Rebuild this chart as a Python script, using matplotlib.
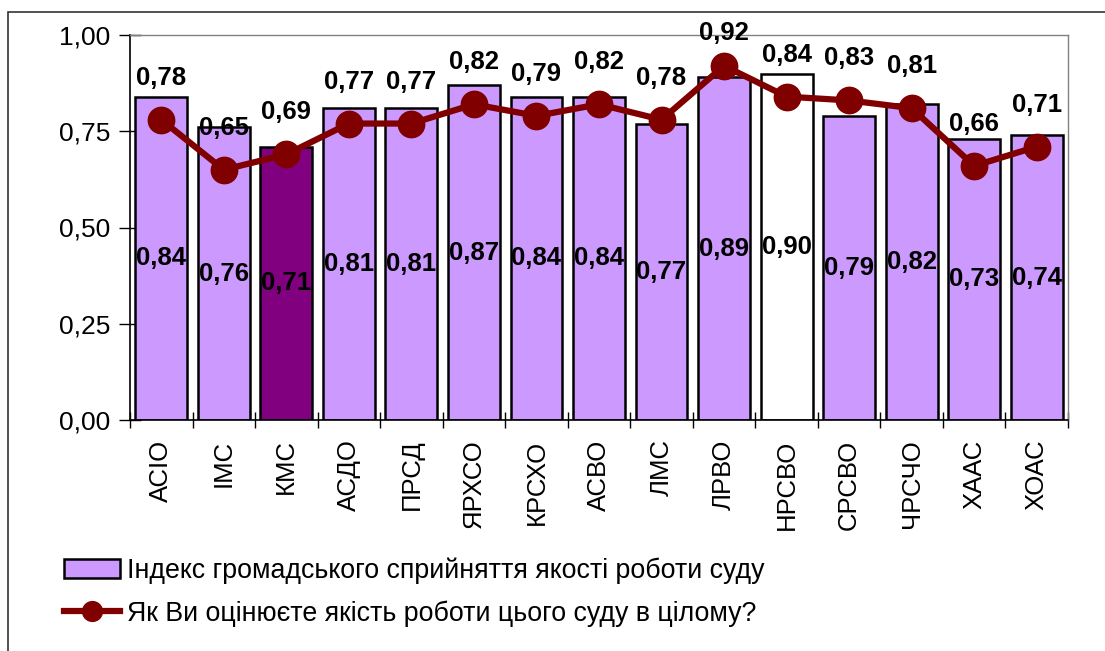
import numpy as np
import matplotlib.pyplot as plt
from matplotlib.patches import Rectangle
from matplotlib.ticker import FixedLocator, FuncFormatter

# Data
courts = ["АСІО", "ІМС", "КМС", "АСДО", "ПРСД", "ЯРХСО", "КРСХО", "АСВО",
          "ЛМС", "ЛРВО", "НРСВО", "СРСВО", "ЧРСЧО", "ХААС", "ХОАС"]
index_vals = [0.84, 0.76, 0.71, 0.81, 0.81, 0.87, 0.84, 0.84,
              0.77, 0.89, 0.90, 0.79, 0.82, 0.73, 0.74]
rating_vals = [0.78, 0.65, 0.69, 0.77, 0.77, 0.82, 0.79, 0.82,
               0.78, 0.92, 0.84, 0.83, 0.81, 0.66, 0.71]
bar_label = "Індекс громадського сприйняття якості роботи суду"
line_label = "Як Ви оцінюєте якість роботи цього суду в цілому?"

plt.rcParams['font.family'] = ['Liberation Sans', 'DejaVu Sans']

fig = plt.figure(figsize=(11.05, 6.51), dpi=100)
ax = fig.add_axes([130 / 1105, 1 - 420 / 651, 938 / 1105, 385 / 651])

# outer frame
fig.patches.append(Rectangle((8 / 1105, -0.05), 1.2, 0.05 + 1 - 12 / 651,
                             transform=fig.transFigure, fill=False,
                             edgecolor='#333333', linewidth=1.2))

x = np.arange(len(courts))
colors = ['#CC99FF'] * len(courts)
colors[courts.index("КМС")] = '#800080'
colors[courts.index("НРСВО")] = 'white'

bars = ax.bar(x, index_vals, width=0.83, color=colors, edgecolor='black',
              linewidth=1.8, label=bar_label, zorder=2)
line, = ax.plot(x, rating_vals, color='#800000', linewidth=4.5, marker='o',
                markersize=19, label=line_label, zorder=3)

for xi, v in zip(x, index_vals):
    ax.text(xi, v / 2, f"{v:.2f}".replace('.', ','), ha='center', va='center',
            fontsize=18.5, fontweight='bold', zorder=4)
for xi, v in zip(x, rating_vals):
    # keep labels inside the chart area (as the spreadsheet does)
    py = 385 * v
    off = min(42, 385 + 2 - py)
    ax.annotate(f"{v:.2f}".replace('.', ','), (xi, v), xytext=(0, off),
                textcoords='offset pixels', ha='center', va='center',
                fontsize=18.5, fontweight='bold', zorder=4)

ax.set_xlim(-0.5, len(courts) - 0.5)
ax.set_ylim(0, 1)
ax.yaxis.set_major_locator(FixedLocator([0, 0.25, 0.5, 0.75, 1.0]))
ax.yaxis.set_major_formatter(FuncFormatter(lambda v, p: f"{v:.2f}".replace('.', ',')))
ax.set_xticks(x)
ax.set_xticklabels(courts, rotation=90, fontsize=18.5)
ax.tick_params(axis='x', length=0, pad=14)
ax.set_xticks(np.arange(-0.5, len(courts)), minor=True)
ax.tick_params(axis='x', which='minor', direction='inout', length=12, width=1)
ax.tick_params(axis='y', direction='inout', length=16, width=1, labelsize=19, pad=6)

for s in ['left', 'bottom']:
    ax.spines[s].set_color('black')
    ax.spines[s].set_linewidth(1.2)
for s in ['top', 'right']:
    ax.spines[s].set_color('#808080')
    ax.spines[s].set_linewidth(1)

fig.legend(handles=[bars, line], labels=[bar_label, line_label],
           loc='upper left', bbox_to_anchor=(53 / 1105, 1 - 547 / 651),
           frameon=False, fontsize=19.3, handlelength=2.1, handletextpad=0.25,
           labelspacing=0.6, markerscale=0.75, borderaxespad=0)

fig.savefig('out.png', dpi=100)
